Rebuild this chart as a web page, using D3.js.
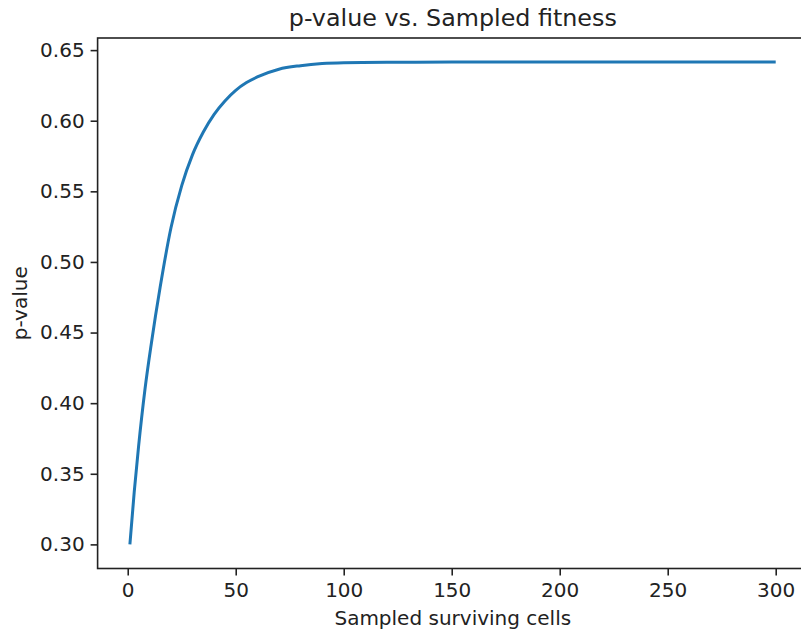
<!DOCTYPE html>
<html>
<head>
<meta charset="utf-8">
<script src="https://cdn.jsdelivr.net/npm/d3@7"></script>
<style>
    body { margin: 0; background: #fff; }
    svg { display: block; }
    text { font-family: "DejaVu Sans", sans-serif; fill: #222; }
</style>
</head>
<body>
<div id="chart"></div>
<script>
// values
var sampledCells = [1, 3, 5, 8, 11, 15, 20, 25, 30, 35, 40, 45, 50, 55, 60, 70, 80, 90, 100, 120, 150, 200, 250, 300];
var pValues = [0.300, 0.337, 0.369, 0.410, 0.443, 0.482, 0.524, 0.554, 0.576, 0.592, 0.6045, 0.614, 0.6215, 0.627, 0.631, 0.6365, 0.639, 0.6405, 0.6411, 0.6414, 0.6415, 0.6415, 0.6415, 0.6415];
var xTicks = [0, 50, 100, 150, 200, 250, 300];
var yTicks = [0.30, 0.35, 0.40, 0.45, 0.50, 0.55, 0.60, 0.65];

var width = 801, height = 632;
// the plot box runs past the right edge of the picture (it was cropped)
var box = { left: 97.6, right: 808, top: 38, bottom: 568.5 };

var data = sampledCells.map(function (d, i) { return { x: d, y: pValues[i] }; });

// matplotlib style 5% margins
var xExt = d3.extent(sampledCells), yExt = d3.extent(pValues);
var xPad = (xExt[1] - xExt[0]) * 0.05, yPad = (yExt[1] - yExt[0]) * 0.05;

var x = d3.scaleLinear()
    .domain([xExt[0] - xPad, xExt[1] + xPad])
    .range([box.left, box.right]);
var y = d3.scaleLinear()
    .domain([yExt[0] - yPad, yExt[1] + yPad])
    .range([box.bottom, box.top]);

var svg = d3.select("#chart")
    .append("svg")
    .attr("width", width)
    .attr("height", height);

svg.append("rect")
    .attr("width", width)
    .attr("height", height)
    .attr("fill", "#fff");

var line = d3.line()
    .x(function (d) { return x(d.x); })
    .y(function (d) { return y(d.y); })
    .curve(d3.curveMonotoneX);

svg.append("path")
    .datum(data)
    .attr("d", line)
    .attr("fill", "none")
    .attr("stroke", "#1f77b4")
    .attr("stroke-width", 3);

var xAxis = svg.append("g")
    .attr("transform", "translate(0," + box.bottom + ")")
    .call(d3.axisBottom(x).tickValues(xTicks).tickSize(7).tickPadding(6).tickFormat(d3.format("d")));

var yAxis = svg.append("g")
    .attr("transform", "translate(" + box.left + ",0)")
    .call(d3.axisLeft(y).tickValues(yTicks).tickSize(7).tickPadding(6).tickFormat(d3.format(".2f")));

[xAxis, yAxis].forEach(function (g) {
    g.select(".domain").remove();
    g.selectAll(".tick line").attr("stroke", "#222").attr("stroke-width", 1.6);
    g.selectAll(".tick text")
        .attr("font-size", 20)
        .attr("font-family", "DejaVu Sans")
        .attr("fill", "#222");
});
xAxis.selectAll(".tick text").attr("dy", "0.75em");

// spines
svg.append("rect")
    .attr("x", box.left)
    .attr("y", box.top)
    .attr("width", box.right - box.left)
    .attr("height", box.bottom - box.top)
    .attr("fill", "none")
    .attr("stroke", "#222")
    .attr("stroke-width", 1.6);

svg.append("text")
    .attr("x", (box.left + box.right) / 2)
    .attr("y", 26)
    .attr("text-anchor", "middle")
    .attr("font-size", 23.8)
    .text("p-value vs. Sampled fitness");

svg.append("text")
    .attr("x", (box.left + box.right) / 2)
    .attr("y", 625)
    .attr("text-anchor", "middle")
    .attr("font-size", 20)
    .text("Sampled surviving cells");

svg.append("text")
    .attr("transform", "translate(27," + (box.top + box.bottom) / 2 + ") rotate(-90)")
    .attr("text-anchor", "middle")
    .attr("font-size", 20)
    .text("p-value");
</script>
</body>
</html>
